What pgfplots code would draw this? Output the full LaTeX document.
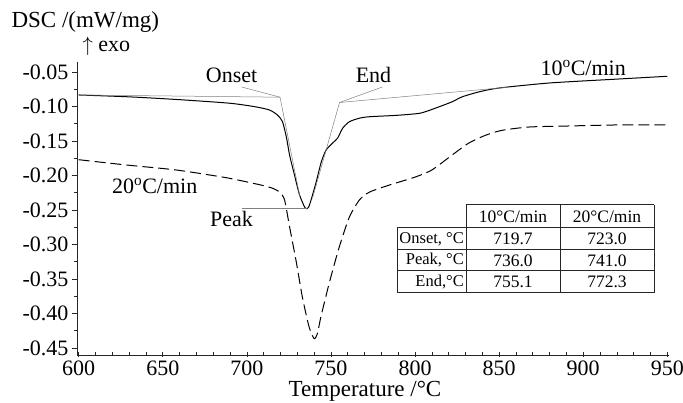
\documentclass[border=0pt]{standalone}
\usepackage{fontspec}
\setmainfont{Liberation Serif}
\usepackage{pgfplots}
\pgfplotsset{compat=1.18}
\newcommand\fA{\fontsize{22}{26}\selectfont}
\newcommand\fL{\fontsize{23}{27}\selectfont}
\newcommand\fT{\fontsize{17.5}{21}\selectfont}
\newcommand\fR{\fontsize{16.5}{20}\selectfont}
\begin{document}
\begin{tikzpicture}[x=1pt,y=1pt]
\useasboundingbox (-77,-48) rectangle (606,355);
\begin{axis}[
  at={(0,0)}, anchor=south west,
  scale only axis, width=592pt, height=293pt,
  xmin=599, xmax=951, ymin=-0.4601, ymax=-0.0355,
  axis x line*=bottom, axis y line*=left,
  axis line style={line width=0.8pt, black!85},
  xtick={600,650,700,750,800,850,900,950},
  minor x tick num=4,
  ytick={-0.45,-0.40,-0.35,-0.30,-0.25,-0.20,-0.15,-0.10,-0.05},
  minor y tick num=1,
  tick align=outside,
  major tick length=5pt, minor tick length=3pt,
  tick style={line width=0.6pt, black!85},
  x tick style={yshift=3pt},
  tick label style={font=\fA},
  /pgf/number format/assume math mode=true,
  yticklabel style={/pgf/number format/.cd, fixed, fixed zerofill, precision=2},
  xticklabel style={yshift=0pt, inner sep=1pt, /pgf/number format/.cd, fixed, precision=0, 1000 sep={}},
  clip=false,
]
% 10 C/min (solid)
\addplot[black, line width=1pt, smooth, tension=0.4] coordinates {
(600,-0.0833)(630,-0.0860)(660,-0.0901)(690,-0.0953)(705,-0.1004)(713.5,-0.1051)
(718.2,-0.1124)(721.2,-0.1220)(723.6,-0.1457)(725.4,-0.1704)(728.3,-0.1992)
(731.3,-0.2280)(734.3,-0.2455)(735.5,-0.2481)(736.8,-0.2455)(738.2,-0.2352)
(741.2,-0.2095)(744.2,-0.1807)(747.1,-0.1632)(751,-0.1529)(754,-0.1457)
(757,-0.1313)(761,-0.1220)(767,-0.1169)(773,-0.1148)(789,-0.1128)(803,-0.1097)
(812,-0.1025)(822,-0.0932)(828,-0.0860)(838,-0.0788)(850,-0.0732)(880,-0.0659)
(920,-0.0603)(950,-0.0562)};
% 20 C/min (dashed)
\addplot[black, line width=1pt, smooth, tension=0.4, dash pattern=on 11pt off 5pt] coordinates {
(600,-0.1771)(628.5,-0.1848)(658,-0.1920)(688,-0.2033)(708,-0.2136)(715,-0.2182)
(719.4,-0.2239)(722.4,-0.2352)(725.4,-0.2743)(729.5,-0.3268)(733,-0.3762)
(737,-0.4194)(740,-0.4364)(742,-0.4287)(744,-0.4050)(749,-0.3556)(755,-0.3031)
(761,-0.2599)(767,-0.2352)(773,-0.2239)(785,-0.2136)(800,-0.2023)(810,-0.1920)
(822,-0.1704)(832,-0.1529)(842,-0.1416)(852,-0.1344)(868,-0.1297)(892,-0.1282)
(921,-0.1267)(950,-0.1267)};
% tangent construction lines
\addplot[gray, line width=0.5pt] coordinates {(600,-0.0833)(719.7,-0.0865)(731.5,-0.2305)};
\addplot[gray, line width=0.5pt] coordinates {(696.9,-0.0717)(719.7,-0.0865)};
\addplot[gray, line width=0.5pt] coordinates {(697.4,-0.2480)(736,-0.2480)};
\addplot[gray, line width=0.5pt] coordinates {(739,-0.2332)(755.1,-0.0942)(855,-0.0721)};
\addplot[gray, line width=0.5pt] coordinates {(755.1,-0.0942)(780.6,-0.0717)};
% labels
\node[font=\fA] at (axis cs:690.9,-0.0543) {Onset};
\node[font=\fA] at (axis cs:775.3,-0.0543) {End};
\node[font=\fA] at (axis cs:690.9,-0.2630) {Peak};
\node[font=\fA] at (axis cs:900,-0.0442) {10\textsuperscript{o}C/min};
\node[font=\fA] at (axis cs:645.2,-0.2152) {20\textsuperscript{o}C/min};
\end{axis}
% axis titles
\node[font=\fL, anchor=west] at (-69,333) {DSC /(mW/mg)};
\node[font=\fA, anchor=west] at (2,309) {$\uparrow$ exo};
\node[font=\fL, inner sep=0pt, anchor=base] at (288,-42) {Temperature /°C};
% table
\begin{scope}[line width=1pt, black!85]
\draw (389,150) -- (577,150);
\draw (320,127) -- (577,127);
\draw (320,105) -- (577,105);
\draw (320,84) -- (577,84);
\draw (320,62) -- (577,62);
\draw (320,127) -- (320,62);
\draw (389,150) -- (389,62);
\draw (483,150) -- (483,62);
\draw (577,150) -- (577,62);
\end{scope}
\node[font=\fT] at (436,138.5) {10°C/min};
\node[font=\fT] at (530,138.5) {20°C/min};
\node[font=\fR, anchor=east, inner sep=1pt] at (388,116) {Onset, °C};
\node[font=\fR, anchor=east, inner sep=1pt] at (388,94.5) {Peak, °C};
\node[font=\fR, anchor=east, inner sep=1pt] at (388,73) {End,°C};
\node[font=\fT] at (436,116) {719.7};
\node[font=\fT] at (530,116) {723.0};
\node[font=\fT] at (436,94.5) {736.0};
\node[font=\fT] at (530,94.5) {741.0};
\node[font=\fT] at (436,73) {755.1};
\node[font=\fT] at (530,73) {772.3};
\end{tikzpicture}
\end{document}
